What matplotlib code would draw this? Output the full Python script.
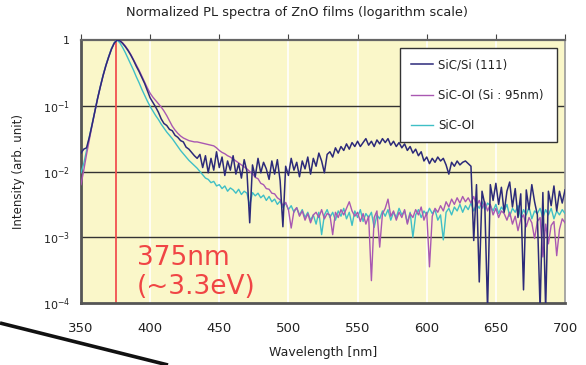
import numpy as np
import matplotlib
matplotlib.use("Agg")
import matplotlib.pyplot as plt
from matplotlib.lines import Line2D
from matplotlib.ticker import FixedLocator, FixedFormatter, NullLocator
import matplotlib.transforms as mtransforms

# ---------------- data (log10 of normalized intensity) ----------------
wavelength = np.arange(350, 701, 2)  # nm

sic_oi_log = [
    -2.02, -1.88, -1.68, -1.48, -1.28, -1.08, -0.88, -0.70, -0.53, -0.38,
    -0.25, -0.13, -0.04, 0.00, -0.04, -0.11, -0.19, -0.28, -0.37, -0.46,
    -0.56, -0.65, -0.75, -0.84, -0.93, -1.01, -1.08, -1.15, -1.21, -1.28,
    -1.34, -1.40, -1.45, -1.50, -1.56, -1.62, -1.68, -1.73, -1.78, -1.83,
    -1.87, -1.91, -1.95, -2.00, -2.05, -2.10, -2.12, -2.17, -2.15, -2.22,
    -2.20, -2.26, -2.22, -2.30, -2.25, -2.28, -2.33, -2.27, -2.35, -2.30,
    -2.33, -2.52, -2.32, -2.37, -2.33, -2.40, -2.36, -2.44, -2.38, -2.46,
    -2.42, -2.50, -2.45, -2.55, -2.48, -2.58, -2.52, -2.62, -2.55, -2.66,
    -2.58, -2.70, -2.62, -2.74, -2.66, -2.80, -2.62, -2.96, -2.66, -2.58,
    -2.70, -2.62, -2.74, -2.60, -2.68, -2.56, -2.72, -2.62, -2.82, -2.60,
    -2.70, -2.58, -2.76, -2.64, -2.70, -2.62, -2.85, -2.66, -2.72, -2.60,
    -2.68, -2.58, -2.74, -2.62, -2.70, -2.56, -2.66, -2.60, -2.78, -2.62,
    -3.00, -2.66, -2.58, -2.70, -2.60, -2.66, -2.56, -2.64, -2.58, -2.74,
    -2.66, -3.04, -2.62, -2.56, -2.66, -2.54, -2.60, -2.50, -2.62, -2.52,
    -2.58, -2.48, -2.60, -2.50, -2.56, -2.46, -2.58, -2.48, -2.52, -2.60,
    -2.50, -2.64, -2.54, -2.60, -2.50, -2.68, -2.56, -2.62, -2.52, -2.70,
    -2.58, -2.66, -2.54, -2.72, -2.60, -2.64, -2.56, -2.70, -2.58, -2.66,
    -2.56, -2.72, -2.60, -2.66, -2.58, -2.64,
]

sic_oi_95_log = [
    -2.20, -1.98, -1.74, -1.52, -1.30, -1.09, -0.89, -0.71, -0.54, -0.39,
    -0.26, -0.14, -0.05, 0.00, -0.01, -0.04, -0.09, -0.15, -0.22, -0.30,
    -0.38, -0.46, -0.55, -0.64, -0.73, -0.81, -0.87, -0.92, -0.97, -1.02,
    -1.08, -1.15, -1.23, -1.31, -1.37, -1.42, -1.46, -1.49, -1.51, -1.53,
    -1.54, -1.55, -1.55, -1.56, -1.57, -1.58, -1.59, -1.60, -1.61, -1.64,
    -1.68, -1.71, -1.73, -1.76, -1.78, -1.81, -1.84, -1.87, -1.90, -1.93,
    -1.96, -2.00, -2.03, -2.09, -2.11, -2.18, -2.20, -2.26, -2.27, -2.33,
    -2.34, -2.40, -2.43, -2.52, -2.47, -2.58, -2.86, -2.60, -2.55, -2.68,
    -2.60, -2.74, -2.64, -2.78, -2.66, -2.62, -2.70, -2.58, -2.72, -2.64,
    -2.66, -2.96, -2.62, -2.70, -2.58, -2.66, -2.56, -2.46, -2.60, -2.68,
    -2.62, -2.76, -2.64, -2.80, -2.68, -3.66, -2.70, -2.60, -3.15, -2.64,
    -2.56, -2.42, -2.68, -2.60, -2.74, -2.62, -2.70, -2.58, -2.80, -2.64,
    -2.70, -2.58, -2.66, -2.54, -2.74, -2.62, -3.45, -2.68, -2.56, -2.62,
    -2.52, -2.60, -2.46, -2.54, -2.42, -2.50, -2.40, -2.48, -2.38, -2.46,
    -2.40, -2.48, -2.38, -2.52, -2.44, -2.56, -2.46, -2.60, -2.50, -2.66,
    -2.56, -2.70, -2.60, -2.64, -2.74, -2.62, -2.80, -2.68, -2.90, -2.72,
    -2.66, -2.84, -2.70, -2.78, -3.02, -2.76, -2.70, -3.30, -2.80, -3.10,
    -2.82, -2.76, -3.28, -2.88, -2.72, -2.78,
]

sic_si_log = [
    -1.72, -1.66, -1.64, -1.48, -1.29, -1.09, -0.89, -0.71, -0.54, -0.39,
    -0.26, -0.14, -0.05, 0.00, -0.01, -0.05, -0.10, -0.16, -0.23, -0.31,
    -0.40, -0.48, -0.57, -0.66, -0.77, -0.88, -0.95, -1.02, -1.10, -1.20,
    -1.27, -1.30, -1.36, -1.38, -1.45, -1.48, -1.53, -1.55, -1.63, -1.66,
    -1.71, -1.76, -1.80, -1.74, -1.94, -1.76, -2.02, -1.80, -1.98, -1.70,
    -1.94, -1.78, -2.06, -1.84, -1.98, -1.76, -2.04, -1.88, -2.10, -1.82,
    -2.00, -2.78, -1.90, -2.08, -1.80, -2.02, -1.86, -1.96, -2.12, -1.84,
    -2.04, -1.82, -2.14, -2.84, -1.92, -2.06, -1.80, -1.98, -1.86, -2.08,
    -1.84, -1.96, -1.78, -2.04, -1.80, -1.92, -1.72, -1.84, -2.02, -1.74,
    -1.70, -1.78, -1.64, -1.72, -1.62, -1.68, -1.58, -1.66, -1.56, -1.62,
    -1.54, -1.62, -1.56, -1.50, -1.60, -1.54, -1.62, -1.52, -1.58, -1.50,
    -1.56, -1.50, -1.60, -1.54, -1.62, -1.56, -1.64, -1.58, -1.68, -1.62,
    -1.72, -1.66, -1.76, -1.70, -1.84, -1.78, -1.88, -1.80, -1.86, -1.78,
    -1.84, -1.80, -1.90, -2.04, -1.86, -1.92, -1.84, -1.90, -1.86, -1.84,
    -1.88, -1.92, -3.05, -2.20, -3.68, -2.30, -2.50, -4.10, -2.20, -2.44,
    -2.18, -2.50, -2.24, -2.62, -2.30, -2.16, -2.54, -2.26, -2.70, -2.34,
    -3.80, -2.28, -2.58, -2.20, -2.46, -2.66, -4.10, -2.32, -4.10, -2.30,
    -2.52, -2.22, -2.60, -2.30, -2.48, -2.28,
]

series_labels = ["SiC/Si (111)", "SiC-OI (Si : 95nm)", "SiC-OI"]
x_ticks = [350, 400, 450, 500, 550, 600, 650, 700]
y_ticks = [1e-4, 1e-3, 1e-2, 1e-1, 1]
y_tick_labels = [r"$10^{-4}$", r"$10^{-3}$", r"$10^{-2}$", r"$10^{-1}$", "1"]
peak_nm = 375

sic_si = 10.0 ** np.array(sic_si_log)
sic_oi_95 = 10.0 ** np.array(sic_oi_95_log)
sic_oi = 10.0 ** np.array(sic_oi_log)

# ---------------- figure ----------------
W, H = 586, 365
fig = plt.figure(figsize=(W / 100, H / 100), dpi=100)
fig.patch.set_facecolor("white")
ax = fig.add_axes([81 / W, 1 - 303 / H, 484 / W, 263 / H])
ax.set_facecolor("#FAF7C9")

c_navy = "#2C2A7A"
c_mag = "#A958B2"
c_cyan = "#3FBFC6"

ax.set_yscale("log")
ax.set_xlim(350, 700)
ax.set_ylim(1e-4, 1)

# grid
for xv in x_ticks[1:-1]:
    ax.axvline(xv, color="white", lw=1.2, zorder=1)
for yv in y_ticks[1:-1]:
    ax.axhline(yv, color="#333333", lw=1.0, zorder=1)

ax.axvline(peak_nm, color="#F25050", lw=1.3, zorder=2)

l3, = ax.plot(wavelength, sic_oi, color=c_cyan, lw=1.0, zorder=3)
l2, = ax.plot(wavelength, sic_oi_95, color=c_mag, lw=1.0, zorder=3)
l1, = ax.plot(wavelength, sic_si, color=c_navy, lw=1.1, zorder=4)

# ticks
ax.xaxis.set_major_locator(FixedLocator(x_ticks))
ax.tick_params(axis="x", which="major", top=True, bottom=False, labeltop=False,
               labelbottom=True, direction="out", length=4.5, width=0.8,
               color="#444444", pad=9, labelsize=9.5, labelcolor="#222222")
ax.yaxis.set_major_locator(FixedLocator(y_ticks))
ax.yaxis.set_major_formatter(FixedFormatter(y_tick_labels))
ax.yaxis.set_minor_locator(NullLocator())
ax.tick_params(axis="y", which="major", length=0, pad=8, labelsize=8,
               labelcolor="#222222")
ax.tick_params(axis="y", which="minor", length=0)

for side, col, lw in [("left", "#555555", 2.0), ("bottom", "#555555", 2.0),
                      ("top", "#666666", 1.6), ("right", "#9A9A9A", 1.2)]:
    ax.spines[side].set_color(col)
    ax.spines[side].set_linewidth(lw)

ax.set_xlabel("Wavelength [nm]", fontsize=9, color="#222222", labelpad=8)
ax.set_ylabel("Intensity (arb. unit)", fontsize=8.5, color="#222222", labelpad=13)

fig.text(296.5 / W, 1 - 12.5 / H, "Normalized PL spectra of ZnO films (logarithm scale)",
         ha="center", va="center", fontsize=9.3, color="#222222")

# annotation
trans = mtransforms.blended_transform_factory(ax.transData, ax.transAxes)
ax.text(390.5, 0.012, "375nm\n(~3.3eV)", transform=trans, ha="left", va="bottom",
        fontsize=19, color="#F04545", linespacing=1.15, zorder=5)

leg_top = (303 - 48) / 263
leg = ax.legend([l1, l2, l3], series_labels, loc="upper left",
                bbox_to_anchor=((400 - 81) / 484, leg_top - 0.1, (557 - 400) / 484, 0.1),
                mode="expand", fontsize=8.5, frameon=True, fancybox=False,
                framealpha=1, edgecolor="#333333", borderpad=0.9, labelspacing=1.45,
                handlelength=1.9, handletextpad=0.4, borderaxespad=0)
leg.get_frame().set_linewidth(1.0)
leg.set_zorder(6)
for t in leg.get_texts():
    t.set_color("#222222")

# decorative black stroke at lower left
fig.add_artist(Line2D([0, 168 / W], [1 - 323 / H, 0], transform=fig.transFigure,
                      color="#111111", lw=2.6, solid_capstyle="butt"))

fig.savefig("out.png", dpi=100, facecolor="white")
